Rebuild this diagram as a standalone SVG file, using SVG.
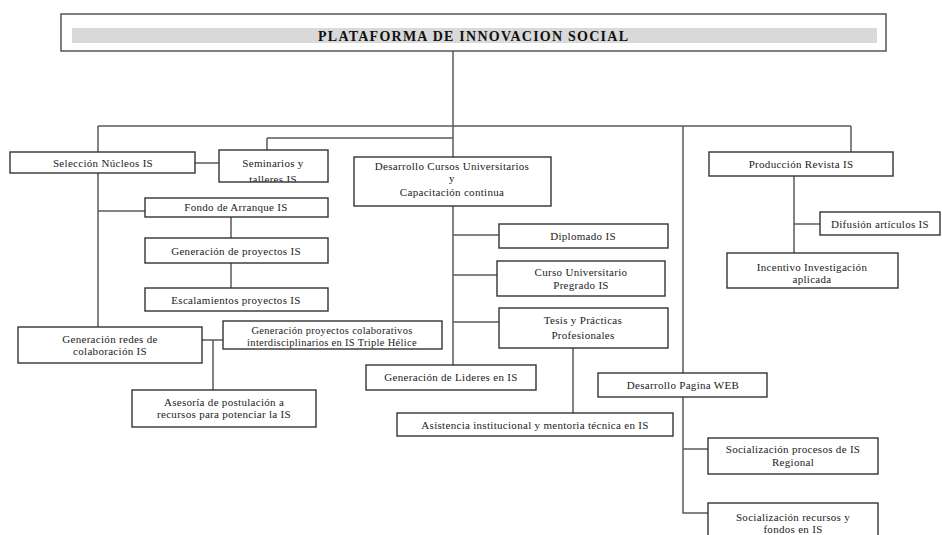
<svg xmlns="http://www.w3.org/2000/svg" width="942" height="535" viewBox="0 0 942 535">
<style>
.bg{fill:#fff}
.ln{stroke:#5a5a5a;stroke-width:1.5;fill:none}
.bx{fill:#fff;stroke:#333;stroke-width:1.4}
.t{font-family:"Liberation Serif","Times New Roman",serif;font-size:11px;fill:#222;text-anchor:middle;letter-spacing:0.3px}
.s{font-size:10.5px}
.ti{font-family:"Liberation Serif","Times New Roman",serif;font-size:14px;font-weight:bold;fill:#111;text-anchor:middle}
</style>
<defs>
<clipPath id="clipSem"><rect x="219" y="150" width="109" height="32"/></clipPath>
</defs>
<rect class="bg" x="0" y="0" width="942" height="535"/>
<g id="connectors">
<path class="ln" d="M453 51V365"/>
<path class="ln" d="M98 126H851"/>
<path class="ln" d="M98 126V327"/>
<path class="ln" d="M98 211H145"/>
<path class="ln" d="M195 163H219"/>
<path class="ln" d="M267 138H453"/>
<path class="ln" d="M267 138V150"/>
<path class="ln" d="M231 217V238"/>
<path class="ln" d="M231 263V288"/>
<path class="ln" d="M453 235H499"/>
<path class="ln" d="M453 275H497"/>
<path class="ln" d="M453 322H499"/>
<path class="ln" d="M202 340H223"/>
<path class="ln" d="M213 340V390"/>
<path class="ln" d="M573 348V413"/>
<path class="ln" d="M683 126V513H708"/>
<path class="ln" d="M683 449H708"/>
<path class="ln" d="M851 126V152"/>
<path class="ln" d="M794 176V253"/>
<path class="ln" d="M794 224H820"/>
</g>
<g id="title">
<rect x="61" y="14" width="825" height="37" fill="#fff" stroke="#555" stroke-width="1.5"/>
<rect x="72" y="28" width="805" height="15" fill="#d9d9d9"/>
<text class="ti" x="473" y="41" textLength="310" lengthAdjust="spacing">PLATAFORMA DE INNOVACION SOCIAL</text>
</g>
<g id="seleccion">
<rect class="bx" x="10" y="152" width="185" height="21"/>
<text class="t" x="103" y="167">Selección Núcleos IS</text>
</g>
<g id="seminarios">
<rect class="bx" x="219" y="150" width="109" height="32"/>
<g clip-path="url(#clipSem)">
<text class="t" x="273" y="167">Seminarios y</text>
<text class="t" x="273" y="183">talleres IS</text>
</g>
</g>
<g id="cursos">
<rect class="bx" x="354" y="157" width="197" height="49"/>
<text class="t" x="452" y="170">Desarrollo Cursos Universitarios</text>
<text class="t" x="452" y="182">y</text>
<text class="t" x="452" y="196">Capacitación continua</text>
</g>
<g id="fondo">
<rect class="bx" x="145" y="198" width="183" height="19"/>
<text class="t" x="236" y="211">Fondo de Arranque IS</text>
</g>
<g id="genproy">
<rect class="bx" x="145" y="238" width="183" height="25"/>
<text class="t" x="236" y="255">Generación de proyectos IS</text>
</g>
<g id="escal">
<rect class="bx" x="145" y="288" width="183" height="23"/>
<text class="t" x="236" y="304">Escalamientos proyectos IS</text>
</g>
<g id="diplomado">
<rect class="bx" x="499" y="224" width="169" height="24"/>
<text class="t" x="583" y="240">Diplomado IS</text>
</g>
<g id="curso">
<rect class="bx" x="497" y="261" width="168" height="35"/>
<text class="t" x="581" y="276">Curso Universitario</text>
<text class="t" x="581" y="289">Pregrado IS</text>
</g>
<g id="tesis">
<rect class="bx" x="499" y="308" width="169" height="40"/>
<text class="t" x="583" y="324">Tesis y Prácticas</text>
<text class="t" x="583" y="339">Profesionales</text>
</g>
<g id="revista">
<rect class="bx" x="709" y="152" width="184" height="24"/>
<text class="t" x="801" y="168">Producción Revista IS</text>
</g>
<g id="difusion">
<rect class="bx" x="820" y="212" width="120" height="23"/>
<text class="t" x="880" y="228">Difusión artículos IS</text>
</g>
<g id="incentivo">
<rect class="bx" x="727" y="253" width="171" height="35"/>
<text class="t" x="812" y="271">Incentivo Investigación</text>
<text class="t" x="812" y="283">aplicada</text>
</g>
<g id="redes">
<rect class="bx" x="18" y="327" width="184" height="36"/>
<text class="t" x="110" y="343">Generación redes de</text>
<text class="t" x="110" y="355">colaboración IS</text>
</g>
<g id="colab">
<rect class="bx" x="223" y="321" width="219" height="28"/>
<text class="t s" x="332" y="334">Generación proyectos colaborativos</text>
<text class="t s" x="332" y="346">interdisciplinarios en IS Triple Hélice</text>
</g>
<g id="asesoria">
<rect class="bx" x="132" y="390" width="184" height="37"/>
<text class="t" x="224" y="406">Asesoría de postulación a</text>
<text class="t" x="224" y="418">recursos para potenciar la IS</text>
</g>
<g id="lideres">
<rect class="bx" x="366" y="365" width="170" height="25"/>
<text class="t" x="451" y="381">Generación de Lideres en IS</text>
</g>
<g id="asistencia">
<rect class="bx" x="397" y="413" width="276" height="23"/>
<text class="t" x="535" y="429">Asistencia institucional y mentoria técnica en IS</text>
</g>
<g id="web">
<rect class="bx" x="598" y="373" width="169" height="24"/>
<text class="t" x="683" y="389">Desarrollo Pagina WEB</text>
</g>
<g id="socproc">
<rect class="bx" x="708" y="438" width="170" height="36"/>
<text class="t" x="793" y="453">Socialización procesos de IS</text>
<text class="t" x="793" y="466">Regional</text>
</g>
<g id="socrec">
<rect class="bx" x="708" y="503" width="170" height="40"/>
<text class="t" x="793" y="521">Socialización recursos y</text>
<text class="t" x="793" y="533">fondos en IS</text>
</g>
</svg>
